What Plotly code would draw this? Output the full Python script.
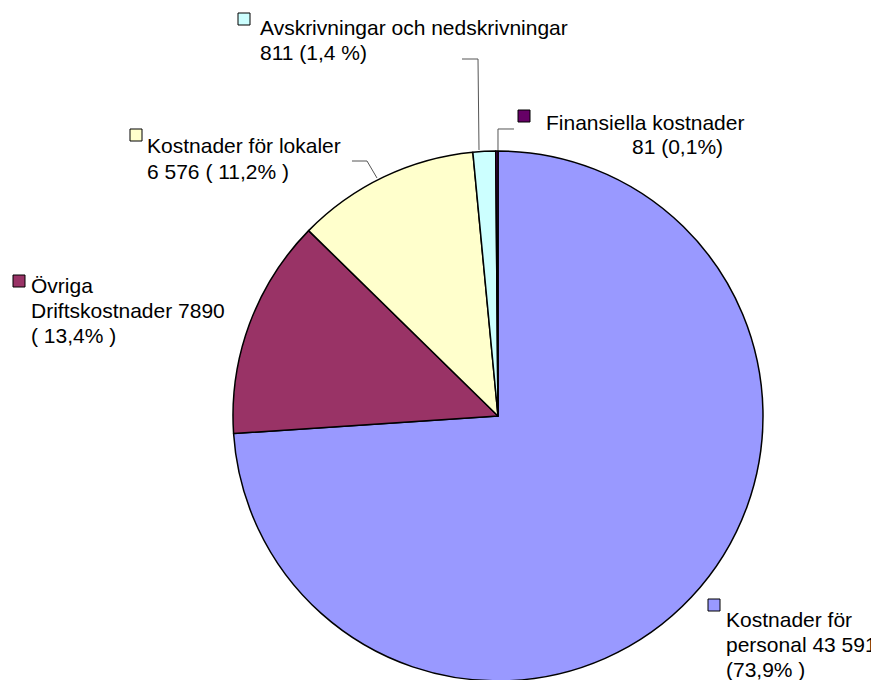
import plotly.graph_objects as go

# ---- data ----
categories = ["Kostnader för personal", "Övriga Driftskostnader", "Kostnader för lokaler",
              "Avskrivningar och nedskrivningar", "Finansiella kostnader"]
values = [43591, 7890, 6576, 811, 81]
colors = ["#9999FF", "#993366", "#FFFFCC", "#CCFFFF", "#660066"]
label_lines = [
    ["Kostnader för", "personal 43 591", "(73,9% )"],
    ["Övriga", "Driftskostnader 7890", "( 13,4% )"],
    ["Kostnader för lokaler", "6 576 ( 11,2% )"],
    ["Avskrivningar och nedskrivningar", "811 (1,4 %)"],
    ["Finansiella kostnader", "81 (0,1%)"],
]

W, H = 879, 680
OFF = 8  # page body margin offset


def px(x):
    return (x - OFF) / W


def py(y):
    return 1 - (y - OFF) / H


FS = 21
font = dict(family="Liberation Sans, Arial, sans-serif", size=FS, color="black")

cx, cy, R = 498, 416, 265
fig = go.Figure(go.Pie(
    labels=categories, values=values, sort=False, direction="clockwise", rotation=0,
    marker=dict(colors=colors, line=dict(color="black", width=1.5)),
    textinfo="none", textposition="none", hoverinfo="label+value+percent",
    domain=dict(x=[px(cx - R), px(cx + R)], y=[py(cy + R), py(cy - R)]),
    showlegend=False,
))

# per line: (left x, first baseline y, line spacing, optional per-line x)
label_layout = [
    ([725, 725, 725], 627, 25),
    ([30, 30, 30], 293, 25),
    ([146, 146], 153, 26),
    ([259, 259], 35, 25),
    ([545, 631], 130, 24),
]
squares = [(708, 599), (13, 275), (130, 129), (238, 13), (518, 110)]

annotations = []
for lines, (xs, base, step) in zip(label_lines, label_layout):
    for i, (txt, x) in enumerate(zip(lines, xs)):
        b = base + i * step
        annotations.append(dict(text=txt, x=px(x), y=py(b - 0.3465 * FS),
                                xref="paper", yref="paper", xanchor="left", yanchor="middle",
                                align="left", showarrow=False, font=font, borderpad=0))

shapes = []
for (x, y), c in zip(squares, colors):
    shapes.append(dict(type="rect", xref="paper", yref="paper",
                       x0=px(x), x1=px(x + 12), y0=py(y), y1=py(y + 12),
                       fillcolor=c, line=dict(color="black", width=1)))

leaders = [
    [(462, 59), (478, 59), (479, 150)],
    [(514, 129), (498, 129), (498, 150)],
    [(352, 161), (367, 161), (377, 178)],
]
for pts in leaders:
    path = "M " + " L ".join(f"{px(a):.5f},{py(b):.5f}" for a, b in pts)
    shapes.append(dict(type="path", xref="paper", yref="paper", path=path,
                       line=dict(color="#555555", width=1)))

fig.update_layout(width=W, height=H, margin=dict(l=0, r=0, t=0, b=0),
                  paper_bgcolor="white", plot_bgcolor="white",
                  annotations=annotations, shapes=shapes, font=font)

fig.write_html("out.html")
